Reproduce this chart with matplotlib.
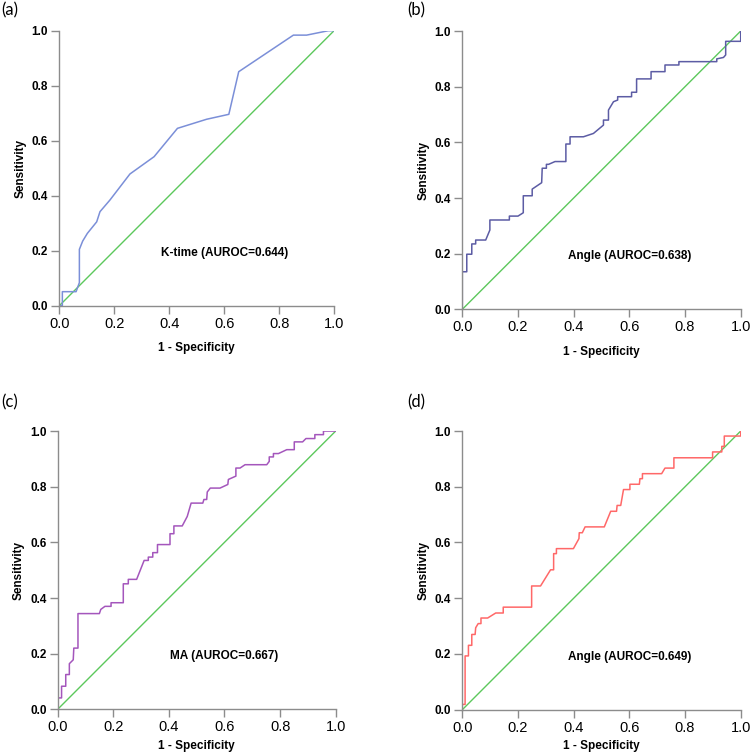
import matplotlib.pyplot as plt

# values
ktime_fpr = [0.0, 0.011, 0.011, 0.061, 0.073, 0.073, 0.085, 0.102, 0.136, 0.148, 0.184, 0.257, 0.345,
             0.430, 0.536, 0.617, 0.653, 0.852, 0.900, 0.979, 1.0]
ktime_tpr = [0.0, 0.0, 0.051, 0.051, 0.084, 0.205, 0.235, 0.263, 0.305, 0.342, 0.384, 0.479, 0.542,
             0.645, 0.678, 0.696, 0.851, 0.984, 0.984, 1.0, 1.0]

angle1_fpr = [0.0, 0.0, 0.016, 0.016, 0.034, 0.034, 0.048, 0.048, 0.084, 0.099, 0.099, 0.169, 0.169,
              0.200, 0.219, 0.219, 0.251, 0.251, 0.285, 0.287, 0.302, 0.302, 0.310, 0.333, 0.372, 0.372,
              0.387, 0.387, 0.435, 0.471, 0.507, 0.507, 0.525, 0.525, 0.543, 0.558, 0.558, 0.608, 0.608,
              0.626, 0.626, 0.678, 0.678, 0.728, 0.728, 0.778, 0.778, 0.914, 0.914, 0.938, 0.946, 0.946,
              1.0, 1.0]
angle1_tpr = [0.0, 0.135, 0.135, 0.198, 0.198, 0.235, 0.235, 0.249, 0.249, 0.285, 0.321, 0.321, 0.335,
              0.335, 0.347, 0.408, 0.408, 0.432, 0.455, 0.507, 0.507, 0.521, 0.521, 0.531, 0.531, 0.594,
              0.594, 0.620, 0.620, 0.632, 0.662, 0.680, 0.680, 0.716, 0.746, 0.752, 0.764, 0.764, 0.780,
              0.780, 0.828, 0.828, 0.854, 0.854, 0.878, 0.878, 0.890, 0.890, 0.900, 0.905, 0.914, 0.963,
              0.963, 1.0]

ma_fpr = [0.0, 0.0, 0.014, 0.014, 0.029, 0.029, 0.042, 0.042, 0.056, 0.058, 0.073, 0.073, 0.150, 0.155,
          0.170, 0.192, 0.192, 0.236, 0.236, 0.254, 0.254, 0.284, 0.311, 0.326, 0.326, 0.342, 0.342, 0.359,
          0.359, 0.404, 0.404, 0.418, 0.418, 0.448, 0.466, 0.480, 0.522, 0.526, 0.536, 0.538, 0.549, 0.584,
          0.612, 0.614, 0.641, 0.641, 0.656, 0.674, 0.752, 0.761, 0.761, 0.776, 0.776, 0.794, 0.824, 0.851,
          0.851, 0.881, 0.893, 0.925, 0.925, 0.956, 0.956, 1.0]
ma_tpr = [0.0, 0.041, 0.041, 0.083, 0.083, 0.125, 0.125, 0.164, 0.178, 0.220, 0.220, 0.344, 0.344, 0.359,
          0.370, 0.370, 0.383, 0.383, 0.451, 0.451, 0.467, 0.467, 0.535, 0.535, 0.547, 0.547, 0.563, 0.563,
          0.592, 0.592, 0.631, 0.631, 0.659, 0.659, 0.693, 0.741, 0.741, 0.754, 0.754, 0.781, 0.795, 0.795,
          0.808, 0.826, 0.838, 0.867, 0.867, 0.879, 0.879, 0.891, 0.907, 0.907, 0.919, 0.919, 0.933, 0.933,
          0.961, 0.961, 0.973, 0.973, 0.987, 0.987, 1.0, 1.0]

angle2_fpr = [0.0, 0.0, 0.010, 0.010, 0.022, 0.022, 0.034, 0.034, 0.046, 0.048, 0.057, 0.067, 0.067,
              0.091, 0.120, 0.147, 0.147, 0.249, 0.249, 0.281, 0.317, 0.328, 0.328, 0.338, 0.338, 0.399,
              0.419, 0.420, 0.431, 0.441, 0.510, 0.533, 0.554, 0.556, 0.569, 0.579, 0.602, 0.602, 0.636,
              0.638, 0.647, 0.647, 0.716, 0.728, 0.760, 0.760, 0.899, 0.899, 0.932, 0.932, 0.941, 0.941,
              1.0, 1.0]
angle2_tpr = [0.0, 0.019, 0.019, 0.193, 0.193, 0.231, 0.231, 0.270, 0.270, 0.294, 0.309, 0.309, 0.329,
              0.329, 0.347, 0.347, 0.368, 0.368, 0.444, 0.444, 0.502, 0.502, 0.560, 0.560, 0.578, 0.578,
              0.614, 0.635, 0.635, 0.656, 0.656, 0.712, 0.712, 0.733, 0.733, 0.790, 0.790, 0.809, 0.809,
              0.829, 0.829, 0.847, 0.847, 0.867, 0.867, 0.904, 0.904, 0.925, 0.925, 0.945, 0.945, 0.982,
              0.982, 1.0]

panel_tags = ['(a)', '(b)', '(c)', '(d)']
curve_labels = ['K-time (AUROC=0.644)', 'Angle (AUROC=0.638)', 'MA (AUROC=0.667)', 'Angle (AUROC=0.649)']
curve_colors = ['#7b8fd8', '#5c5ca4', '#a456bc', '#ff6868']
curves = [(ktime_fpr, ktime_tpr), (angle1_fpr, angle1_tpr), (ma_fpr, ma_tpr), (angle2_fpr, angle2_tpr)]
ticks = [0.0, 0.2, 0.4, 0.6, 0.8, 1.0]

fig = plt.figure(figsize=(7.51, 7.55), dpi=100)
boxes = [[0.0790, 0.5951, 0.3658, 0.3642],
         [0.6156, 0.5903, 0.3707, 0.3686],
         [0.0768, 0.0605, 0.3702, 0.3686],
         [0.6156, 0.0600, 0.3707, 0.3691]]
tag_pos = [(0.001, 0.997), (0.542, 0.997), (0.001, 0.478), (0.542, 0.478)]
xlab_pad = [8, 8, 4, 4]

for i in range(4):
    ax = fig.add_axes(boxes[i])
    fpr, tpr = curves[i]
    ax.plot([0, 1], [0, 1], color='#5cc85c', lw=1.0)
    ax.plot(fpr, tpr, color=curve_colors[i], lw=1.1)
    ax.set_xlim(0, 1)
    ax.set_ylim(0, 1)
    ax.set_xticks(ticks)
    ax.set_yticks(ticks)
    ax.set_xticklabels(['%.1f' % t for t in ticks], fontsize=10.5, family='Liberation Sans')
    ax.set_yticklabels(['%.1f' % t for t in ticks], fontsize=8.5, family='Liberation Sans', fontweight='bold')
    ax.spines['top'].set_visible(False)
    ax.spines['right'].set_visible(False)
    for s in ['left', 'bottom']:
        ax.spines[s].set_color('#8c8c8c')
        ax.spines[s].set_linewidth(1.0)
    ax.tick_params(colors='#8c8c8c', labelcolor='black', length=6, width=1.0, pad=2)
    ax.set_xlabel('1 - Specificity', fontsize=8.5, fontweight='bold', family='Liberation Sans',
                  labelpad=xlab_pad[i])
    ax.set_ylabel('Sensitivity', fontsize=8.5, fontweight='bold', family='Liberation Sans', labelpad=4)
    ax.text(0.6, 0.19, curve_labels[i], ha='center', va='center', fontsize=8.5,
            fontweight='bold', family='Liberation Sans')
    fig.text(tag_pos[i][0], tag_pos[i][1], panel_tags[i], ha='left', va='top', fontsize=12, family='Lato')

plt.savefig('out.png', dpi=100)
